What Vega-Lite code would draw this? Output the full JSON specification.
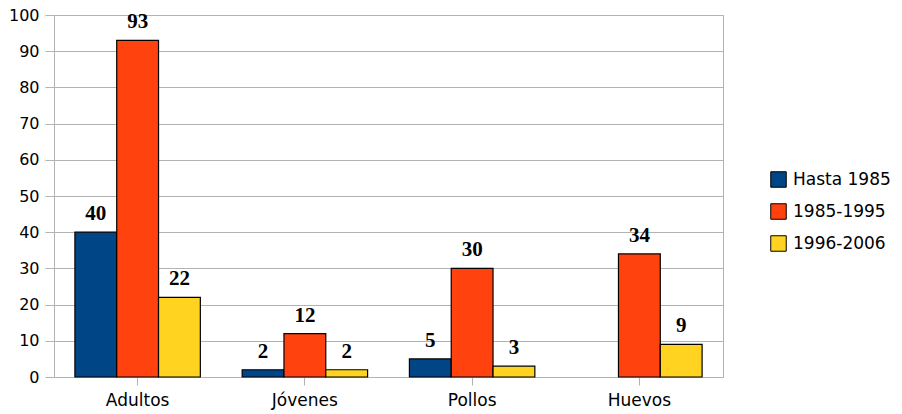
{
  "$schema": "https://vega.github.io/schema/vega-lite/v6.json",
  "autosize": {"type": "none"},
  "padding": {"left": 54, "top": 15, "right": 179, "bottom": 37},
  "width": 669,
  "height": 362,
  "background": "white",
  "config": {
    "view": {"stroke": "#b3b3b3", "strokeWidth": 1},
    "font": "DejaVu Sans",
    "legend": {"padding": 0}
  },
  "data": {
    "values": [
      {"grupo": "Adultos", "periodo": "Hasta 1985", "valor": 40},
      {"grupo": "Adultos", "periodo": "1985-1995", "valor": 93},
      {"grupo": "Adultos", "periodo": "1996-2006", "valor": 22},
      {"grupo": "Jóvenes", "periodo": "Hasta 1985", "valor": 2},
      {"grupo": "Jóvenes", "periodo": "1985-1995", "valor": 12},
      {"grupo": "Jóvenes", "periodo": "1996-2006", "valor": 2},
      {"grupo": "Pollos", "periodo": "Hasta 1985", "valor": 5},
      {"grupo": "Pollos", "periodo": "1985-1995", "valor": 30},
      {"grupo": "Pollos", "periodo": "1996-2006", "valor": 3},
      {"grupo": "Huevos", "periodo": "1985-1995", "valor": 34},
      {"grupo": "Huevos", "periodo": "1996-2006", "valor": 9}
    ]
  },
  "encoding": {
    "x": {
      "field": "grupo",
      "type": "nominal",
      "sort": ["Adultos", "Jóvenes", "Pollos", "Huevos"],
      "scale": {"paddingInner": 0.25, "paddingOuter": 0.125},
      "axis": {
        "title": null,
        "labelAngle": 0,
        "labelFont": "DejaVu Sans",
        "labelFontSize": 17,
        "labelColor": "#000",
        "labelPadding": 7,
        "domain": false,
        "ticks": true,
        "tickSize": 8,
        "tickColor": "#b3b3b3",
        "grid": false
      }
    },
    "xOffset": {
      "field": "periodo",
      "type": "nominal",
      "sort": ["Hasta 1985", "1985-1995", "1996-2006"],
      "scale": {"domain": ["Hasta 1985", "1985-1995", "1996-2006"], "paddingInner": 0, "paddingOuter": 0}
    },
    "y": {
      "field": "valor",
      "type": "quantitative",
      "scale": {"domain": [0, 100], "nice": false},
      "axis": {
        "title": null,
        "values": [0, 10, 20, 30, 40, 50, 60, 70, 80, 90, 100],
        "labelFont": "DejaVu Sans",
        "labelFontSize": 16,
        "labelColor": "#000",
        "labelPadding": 6,
        "tickSize": 9,
        "tickColor": "#b3b3b3",
        "domainColor": "#b3b3b3",
        "gridColor": "#b3b3b3",
        "gridOpacity": 1
      }
    }
  },
  "layer": [
    {
      "mark": {"type": "bar", "stroke": "#000", "strokeWidth": 1.2},
      "encoding": {
        "color": {
          "field": "periodo",
          "type": "nominal",
          "scale": {
            "domain": ["Hasta 1985", "1985-1995", "1996-2006"],
            "range": ["#004586", "#ff420e", "#ffd320"]
          },
          "legend": {
            "title": null,
            "orient": "none",
            "legendX": 716,
            "legendY": 156,
            "symbolType": "square",
            "symbolSize": 240,
            "symbolStrokeColor": "#000",
            "symbolStrokeWidth": 1,
            "labelFont": "DejaVu Sans",
            "labelFontSize": 17,
            "labelColor": "#000",
            "rowPadding": 11,
            "labelOffset": 6
          }
        }
      }
    },
    {
      "mark": {"type": "text", "dy": -12, "baseline": "alphabetic", "font": "Liberation Serif", "fontWeight": "bold", "fontSize": 21, "color": "#000"},
      "encoding": {
        "text": {"field": "valor", "type": "quantitative"}
      }
    }
  ]
}
